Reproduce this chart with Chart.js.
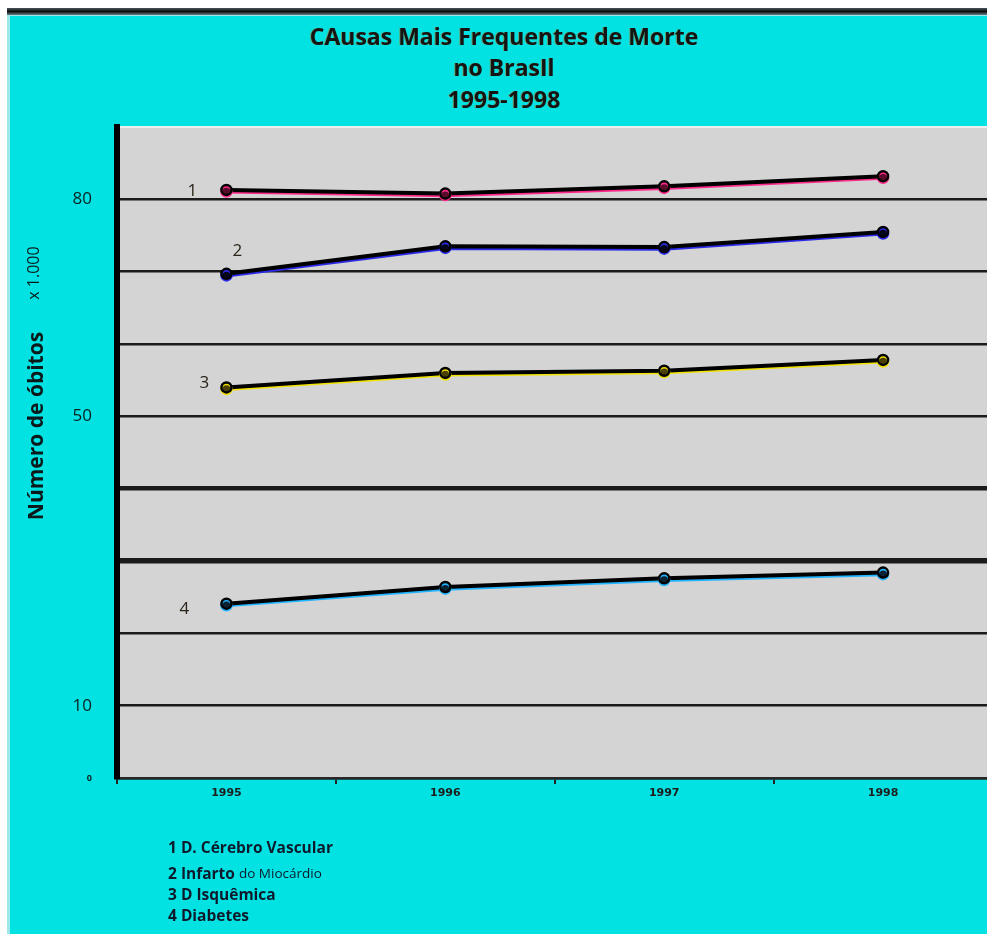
<!DOCTYPE html>
<html>
<head>
<meta charset="utf-8">
<script src="https://cdn.jsdelivr.net/npm/chart.js@4.4.0/dist/chart.umd.min.js"></script>
<style>
  html, body { margin: 0; padding: 0; background: #fff; overflow: hidden; }
  canvas { display: block; }
</style>
</head>
<body>
<canvas id="chart" width="1000" height="934"></canvas>
<script>
// ---- data ----
const years = ['1995', '1996', '1997', '1998'];
const seriesNumbers = ['1', '2', '3', '4'];
const causeNames = ['D. Cérebro Vascular', 'Infarto', 'D Isquêmica', 'Diabetes'];
const causeNotes = ['', 'do Miocárdio', '', ''];
const cerebroVascular = [81.3, 80.8, 81.8, 83.2];
const infarto = [69.7, 73.5, 73.4, 75.5];
const isquemica = [54.0, 56.0, 56.3, 57.8];
const diabetes = [24.1, 26.4, 27.6, 28.4];
const yLabelledTicks = [0, 10, 50, 80];
const titleLines = ['CAusas Mais Frequentes de Morte', 'no BrasIl', '1995-1998'];
const yTitle = 'Número de óbitos';
const yUnit = 'x 1.000';

// ---- styles ----
const CYAN = '#02e2e2';
const PLOT_GRAY = '#d4d4d4';
const fringeColors = ['#ff2a8c', '#2a2ae8', '#f2e200', '#22b4ff'];
const pointFills = ['#5a0a2a', '#06061a', '#4a3e00', '#0a2234'];
// offsets of the series numbers from each series' first point
const numberOffsets = [[-34, 1], [11, -23], [-22, -4], [-42, 5]];
const legendBaselines = [853, 879, 900, 921];

const seriesValues = [cerebroVascular, infarto, isquemica, diabetes];

const backgroundPlugin = {
  id: 'pageBackground',
  beforeDraw(chart) {
    const { ctx, width, height, chartArea: a } = chart;
    ctx.save();
    ctx.fillStyle = '#ffffff';
    ctx.fillRect(0, 0, width, height);
    // dark band along the top
    const g = ctx.createLinearGradient(0, 8, 0, 15);
    g.addColorStop(0, '#4a5560');
    g.addColorStop(0.5, '#0c0c0c');
    g.addColorStop(1, '#6a8088');
    ctx.fillStyle = g;
    ctx.fillRect(7, 8, width, 7);
    ctx.fillStyle = '#9ee8ea';
    ctx.fillRect(7, 15, width, height);
    ctx.fillStyle = CYAN;
    ctx.fillRect(10, 16, width, height);
    // plot panel
    ctx.fillStyle = PLOT_GRAY;
    ctx.fillRect(a.left, a.top, a.right - a.left, a.bottom - a.top);
    ctx.fillStyle = '#eef0f0';
    ctx.fillRect(a.left, a.top - 1, a.right - a.left, 2);
    ctx.restore();
  }
};

// coloured edge under each black series line
const fringePlugin = {
  id: 'lineFringe',
  beforeDatasetDraw(chart, args) {
    const ctx = chart.ctx;
    ctx.save();
    ctx.shadowColor = fringeColors[args.index];
    ctx.shadowOffsetX = 0;
    ctx.shadowOffsetY = 1.6;
    ctx.shadowBlur = 0.6;
  },
  afterDatasetDraw(chart) {
    chart.ctx.restore();
  }
};

const textPlugin = {
  id: 'chartTexts',
  afterDraw(chart) {
    const ctx = chart.ctx;
    ctx.save();

    // title
    ctx.textAlign = 'center';
    ctx.textBaseline = 'middle';
    ctx.font = 'bold 23px "Open Sans", sans-serif';
    const titleY = [38, 69, 101];
    titleLines.forEach((line, i) => {
      ctx.fillStyle = 'rgba(190,110,20,0.55)';
      ctx.fillText(line, 503, titleY[i] + 0.8);
      ctx.fillStyle = '#141414';
      ctx.fillText(line, 504, titleY[i]);
    });

    // rotated y-axis title
    ctx.save();
    ctx.translate(43, 426);
    ctx.rotate(-Math.PI / 2);
    ctx.fillStyle = '#0a1a1a';
    ctx.font = 'bold 21px "Open Sans", sans-serif';
    ctx.textAlign = 'center';
    ctx.textBaseline = 'alphabetic';
    ctx.fillText(yTitle, 0, 0);
    ctx.restore();
    ctx.save();
    ctx.translate(34, 273);
    ctx.rotate(-Math.PI / 2);
    ctx.fillStyle = '#0a1a1a';
    ctx.font = '16px "Open Sans", sans-serif';
    ctx.textAlign = 'center';
    ctx.textBaseline = 'middle';
    ctx.fillText(yUnit, 0, 0);
    ctx.restore();

    // series numbers beside the first point of each line
    ctx.textAlign = 'center';
    ctx.textBaseline = 'middle';
    ctx.font = '17px "Open Sans", sans-serif';
    ctx.fillStyle = '#2a2418';
    chart.data.datasets.forEach((ds, i) => {
      const p = chart.getDatasetMeta(i).data[0];
      ctx.fillText(seriesNumbers[i], p.x + numberOffsets[i][0], p.y + numberOffsets[i][1]);
    });

    // legend
    ctx.textAlign = 'left';
    ctx.textBaseline = 'alphabetic';
    ctx.fillStyle = '#0e1a2c';
    causeNames.forEach((name, i) => {
      ctx.font = 'bold 15.5px "Open Sans", sans-serif';
      const main = seriesNumbers[i] + ' ' + name;
      ctx.fillText(main, 168, legendBaselines[i]);
      if (causeNotes[i]) {
        const w = ctx.measureText(main + ' ').width;
        ctx.font = '13.5px "Open Sans", sans-serif';
        ctx.fillText(causeNotes[i], 168 + w, legendBaselines[i] - 1);
      }
    });

    ctx.restore();
  }
};

const datasets = seriesValues.map((values, i) => ({
  label: causeNames[i],
  data: values,
  borderColor: '#000000',
  borderWidth: 4,
  pointRadius: 5,
  pointBorderWidth: 2.5,
  pointBorderColor: '#000000',
  pointBackgroundColor: pointFills[i],
  tension: 0,
  fill: false
}));

new Chart(document.getElementById('chart'), {
  type: 'line',
  data: { labels: years, datasets },
  options: {
    responsive: false,
    animation: false,
    devicePixelRatio: 1,
    layout: { padding: { top: 127, right: 7, left: 0, bottom: 0 } },
    plugins: {
      legend: { display: false },
      title: { display: false },
      tooltip: { enabled: false }
    },
    scales: {
      x: {
        offset: true,
        afterFit(scale) { scale.height = 156; },
        grid: {
          offset: true,
          drawOnChartArea: false,
          drawTicks: true,
          tickLength: 6,
          color: '#222222',
          lineWidth: 2
        },
        border: { display: true, color: '#262626', width: 2.5 },
        ticks: {
          padding: 3,
          color: '#1e1e1e',
          font: { family: 'DejaVu Sans', size: 11, weight: 'bold' }
        }
      },
      y: {
        min: 0,
        max: 90,
        afterFit(scale) { scale.width = 117; },
        ticks: {
          stepSize: 10,
          autoSkip: false,
          padding: 25,
          color: '#0b1f1f',
          callback: v => (yLabelledTicks.includes(v) ? String(v) : ''),
          font: c => (c.tick && c.tick.value === 0)
            ? { family: 'Open Sans', size: 9, weight: 'bold' }
            : { family: 'Open Sans', size: 17 }
        },
        grid: {
          drawTicks: false,
          color: c => (c.tick && c.tick.value === 90) ? 'rgba(0,0,0,0)' : '#1b1b1b',
          lineWidth: c => {
            const v = c.tick ? c.tick.value : 0;
            if (v === 40) return 4.5;
            if (v === 30) return 5.5;
            return 2.5;
          }
        },
        border: { display: true, color: '#000000', width: 6 }
      }
    }
  },
  plugins: [backgroundPlugin, fringePlugin, textPlugin]
});
</script>
</body>
</html>
